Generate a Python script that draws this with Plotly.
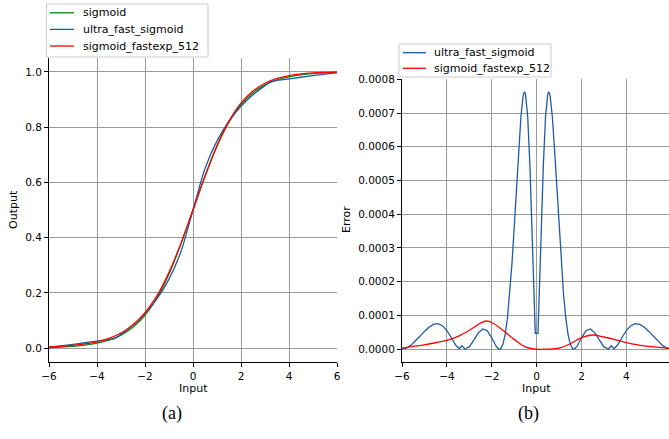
import plotly.graph_objects as go

# ---------------- data: panel (a) ----------------
x_out = [-6, -5.5, -5, -4.5, -4, -3.5, -3, -2.5, -2, -1.5, -1, -0.5, 0,
         0.5, 1, 1.5, 2, 2.5, 3, 3.5, 4, 4.5, 5, 5.5, 6]
sigmoid = [0.00247, 0.00407, 0.00669, 0.01099, 0.01799, 0.02931, 0.04743,
           0.07586, 0.11920, 0.18243, 0.26894, 0.37754, 0.5,
           0.62246, 0.73106, 0.81757, 0.88080, 0.92414, 0.95257, 0.97069,
           0.98201, 0.98901, 0.99331, 0.99593, 0.99753]
sigmoid_fastexp_512 = [0.0042, 0.0069, 0.0103, 0.0154, 0.0231, 0.0355, 0.0549,
                       0.0846, 0.1281, 0.1899, 0.2743, 0.3802, 0.5,
                       0.6225, 0.7328, 0.8216, 0.8866, 0.9306, 0.9586, 0.9760,
                       0.9864, 0.9926, 0.9961, 0.9981, 0.9989]
x_uf = [-6, -5.5, -5, -4.5, -4, -3.5, -3.4, -3.25, -3, -2.5, -2, -1.5, -1, -0.5, 0,
        0.5, 1, 1.5, 2, 2.5, 3, 3.25, 3.4, 3.5, 4, 4.5, 5, 5.5, 6]
ultra_fast_sigmoid = [0.00247, 0.00821, 0.01394, 0.01968, 0.02541, 0.03115, 0.03230,
                      0.03571, 0.05, 0.08333, 0.125, 0.17857, 0.25, 0.35, 0.5,
                      0.65, 0.75, 0.82143, 0.875, 0.91667, 0.95, 0.96429, 0.96770,
                      0.96885, 0.97459, 0.98032, 0.98606, 0.99179, 0.99753]

# ---------------- data: panel (b) ----------------
x_err_uf = [-6, -5.8, -5.6, -5.4, -5.2, -5.0, -4.8, -4.6, -4.4, -4.2, -4.0, -3.8, -3.6,
            -3.45, -3.33, -3.2, -3.0, -2.8, -2.6, -2.4, -2.2, -2.0, -1.8, -1.7, -1.6,
            -1.5, -1.4, -1.3, -1.2, -1.1, -1.0, -0.9, -0.8, -0.7, -0.6, -0.55, -0.5,
            -0.4, -0.3, -0.2, -0.1, -0.06,
            0.06, 0.1, 0.2, 0.3, 0.4, 0.5, 0.55, 0.6, 0.7, 0.8, 0.9, 1.0, 1.1, 1.2,
            1.3, 1.4, 1.5, 1.6, 1.7, 1.8, 2.0, 2.2, 2.4, 2.6, 2.8, 3.0, 3.2, 3.33,
            3.45, 3.6, 3.8, 4.0, 4.2, 4.4, 4.6, 4.8, 5.0, 5.2, 5.4, 5.6, 5.8, 6.0]
err_ultra_fast = [0.0, 0.0000031, 0.0000114, 0.0000236, 0.000038, 0.0000526, 0.0000652,
                  0.0000736, 0.0000756, 0.0000696, 0.0000552, 0.0000339, 0.0000116,
                  0.000001, 0.0000102, 0.0000005, 0.0000066, 0.0000268, 0.0000483,
                  0.0000598, 0.0000547, 0.0000336, 0.000008, 0.000001, 0.0000017,
                  0.000015, 0.000044, 0.0000925, 0.000162, 0.000252, 0.000359,
                  0.000476, 0.000591, 0.000689, 0.000752, 0.000763, 0.000758,
                  0.000692, 0.000547, 0.000337, 0.000115, 0.000047,
                  0.000047, 0.000115, 0.000337, 0.000547, 0.000692, 0.000758, 0.000763,
                  0.000752, 0.000689, 0.000591, 0.000476, 0.000359, 0.000252, 0.000162,
                  0.0000925, 0.000044, 0.000015, 0.0000017, 0.000001, 0.000008,
                  0.0000336, 0.0000547, 0.0000598, 0.0000483, 0.0000268, 0.0000066,
                  0.0000005, 0.0000102, 0.000001, 0.0000116, 0.0000339, 0.0000552,
                  0.0000696, 0.0000756, 0.0000736, 0.0000652, 0.0000526, 0.000038,
                  0.0000236, 0.0000114, 0.0000031, 0.0]
x_err_fe = [-6, -5.5, -5, -4.5, -4, -3.5, -3, -2.5, -2.25, -2, -1.5, -1, -0.5, 0,
            0.5, 1, 1.5, 2, 2.5, 3, 3.5, 4, 4.5, 5, 5.5, 6]
err_fastexp_512 = [0.000003, 0.000008, 0.000013, 0.000019, 0.000026, 0.000038, 0.000056,
                   0.000077, 0.0000835, 0.000079, 0.000056, 0.000029, 0.000007, 0.0,
                   0.0, 0.000003, 0.000016, 0.000034, 0.000042, 0.000036, 0.000028,
                   0.0000196, 0.000013, 0.000008, 0.000005, 0.000002]

x_ticks = [-6, -4, -2, 0, 2, 4, 6]
legend_a = ["sigmoid", "ultra_fast_sigmoid", "sigmoid_fastexp_512"]
legend_b = ["ultra_fast_sigmoid", "sigmoid_fastexp_512"]

GREEN = "#0a8a0a"
BLUE = "#1f5aa6"
RED = "#ff0000"
FONT = "DejaVu Sans"
W, H = 669, 439


def px(x):
    return x / W


def py(y):
    return (H - y) / H


fig = go.Figure()
fig.add_trace(go.Scatter(x=x_out, y=sigmoid, name=legend_a[0], mode="lines",
                         line=dict(color=GREEN, width=1.3, shape="spline"),
                         xaxis="x", yaxis="y"))
fig.add_trace(go.Scatter(x=x_uf, y=ultra_fast_sigmoid, name=legend_a[1], mode="lines",
                         line=dict(color=BLUE, width=1.3, shape="spline", smoothing=0.8),
                         xaxis="x", yaxis="y"))
fig.add_trace(go.Scatter(x=x_out, y=sigmoid_fastexp_512, name=legend_a[2], mode="lines",
                         line=dict(color=RED, width=1.3, shape="spline"),
                         xaxis="x", yaxis="y"))
fig.add_trace(go.Scatter(x=x_err_uf, y=err_ultra_fast, name=legend_b[0], mode="lines",
                         line=dict(color=BLUE, width=1.3),
                         xaxis="x2", yaxis="y2"))
fig.add_trace(go.Scatter(x=x_err_fe, y=err_fastexp_512, name=legend_b[1], mode="lines",
                         line=dict(color=RED, width=1.3, shape="spline"),
                         xaxis="x2", yaxis="y2"))

axis_common = dict(showline=True, linecolor="black", linewidth=1,
                   ticks="outside", ticklen=4, tickcolor="black", tickwidth=1,
                   showgrid=True, gridcolor="#9a9a9a", gridwidth=1, automargin=False,
                   zeroline=False, tickfont=dict(family=FONT, size=10.5, color="black"),
                   mirror=False)

fig.update_layout(
    template="none",
    width=W, height=H,
    margin=dict(l=0, r=0, t=0, b=0, autoexpand=False),
    paper_bgcolor="white", plot_bgcolor="white",
    font=dict(family=FONT, size=10.5, color="black"),
    showlegend=False,
    xaxis=dict(domain=[px(49), px(337)], range=[-6, 6], tickvals=x_ticks,
               anchor="y", **axis_common),
    yaxis=dict(domain=[py(362), py(58)], range=[-0.05, 1.05],
               tickvals=[0, 0.2, 0.4, 0.6, 0.8, 1.0], tickformat=".1f",
               anchor="x", **axis_common),
    xaxis2=dict(domain=[px(402), 1.0], range=[-6, 5.9], tickvals=x_ticks,
                anchor="y2", **axis_common),
    yaxis2=dict(domain=[py(362), py(79)], range=[-0.0000381, 0.000801],
                tickvals=[0, 0.0001, 0.0002, 0.0003, 0.0004, 0.0005, 0.0006, 0.0007, 0.0008],
                tickformat=".4f", anchor="x2", **axis_common),
)

# legends (drawn as boxes with line samples and labels, matching the compact matplotlib style)
def add_legend(box, entries, colors, y0, dy, lx0, lx1, tx):
    x0, yt, x1, yb = box
    fig.add_shape(type="rect", xref="paper", yref="paper",
                  x0=px(x0), x1=px(x1), y0=py(yb), y1=py(yt),
                  line=dict(color="#cccccc", width=1), fillcolor="rgba(255,255,255,0.85)",
                  layer="above")
    for i, (name, col) in enumerate(zip(entries, colors)):
        yy = y0 + i * dy
        fig.add_shape(type="line", xref="paper", yref="paper",
                      x0=px(lx0), x1=px(lx1), y0=py(yy), y1=py(yy),
                      line=dict(color=col, width=1.3), layer="above")
        fig.add_annotation(text=name, xref="paper", yref="paper", x=px(tx), y=py(yy),
                           xanchor="left", yanchor="middle", showarrow=False,
                           font=dict(family=FONT, size=11, color="black"))


add_legend((46.5, 4, 208, 57), legend_a, [GREEN, BLUE, RED], 12.8, 16.6, 50, 74, 81)
add_legend((399, 44, 551, 77), legend_b, [BLUE, RED], 52.7, 15.6, 403, 426, 432)

ann = [
    dict(text="Input", x=px((49 + 337) / 2), y=py(388)),
    dict(text="Input", x=px(536.5), y=py(388)),
    dict(text="Output", x=px(14), y=py(210), textangle=-90),
    dict(text="Error", x=px(347), y=py(220), textangle=-90),
]
for a in ann:
    fig.add_annotation(xref="paper", yref="paper", showarrow=False,
                       xanchor="center", yanchor="middle",
                       font=dict(family=FONT, size=11, color="black"), **a)
for txt, cx in [("(a)", 172), ("(b)", 528)]:
    fig.add_annotation(text=txt, xref="paper", yref="paper", x=px(cx), y=py(413),
                       showarrow=False, xanchor="center", yanchor="middle",
                       font=dict(family="Liberation Serif", size=18, color="black"))

fig.write_html("out.html", config={"displayModeBar": False},
               post_script="document.body.style.margin='0';document.body.style.overflow='hidden';")
